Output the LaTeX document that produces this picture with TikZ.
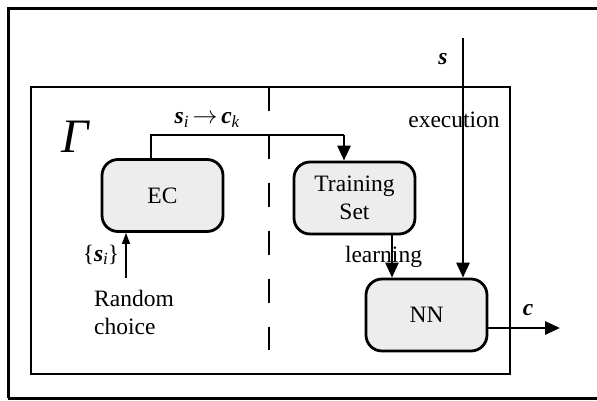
\documentclass[tikz,border=0pt]{standalone}
\usepackage{fontspec}
\setmainfont{Liberation Serif}
\usetikzlibrary{arrows.meta}
\newcommand{\bsym}[1]{{\bfseries\itshape #1}}
\newcommand{\lowsub}[1]{\raisebox{-0.3ex}{\fontsize{17}{17}\selectfont\itshape #1}}
\begin{document}
\begin{tikzpicture}[x=1pt,y=-1pt,
  box/.style={draw,line width=2.8pt,fill=black!7,rounded corners=16pt,minimum width=121pt,minimum height=72pt,inner sep=0pt,align=center},
  lbl/.style={inner sep=0pt,font=\fontsize{23.5}{28}\selectfont},
  thickarrow/.style={line width=2.8pt,-{Triangle[length=15pt,width=13pt]}},
  thinarrow/.style={line width=1.2pt,-{Triangle[length=11pt,width=8pt]}},
  frame/.style={line width=2.6pt}]
\useasboundingbox (0,0) rectangle (597,400);
\clip (0,0) rectangle (597,400);
% outer and inner frames
\draw[frame,line width=3pt] (8,398) -- (8,8) -- (620,8);
\draw[frame,line width=3pt] (8,398) -- (620,398);
\draw[frame] (31,87) rectangle (510,374);
% dashed separator
\draw[line width=2.6pt,dash pattern=on 24pt off 24pt] (269,87) -- (269,350);
% Gamma
\node[lbl,font=\fontsize{48}{48}\selectfont\itshape] (gamma) at (75,137) {Γ};
% boxes
\node[box,lbl] (ec) at (162.5,195.5) {EC};
\node[box,lbl] (ts) at (354.5,198) {Training\\Set};
\node[box,lbl] (nn) at (426.5,315) {NN};
% EC -> Training Set
\coordinate (c1) at (151,135);
\coordinate (c2) at (344,135);
\draw[line width=2.8pt] (ec.north -| c1) -- (c1) -- (c2);
\draw[thickarrow] (c2) -- (c2 |- ts.north);
\node[lbl] (map) at (207,120) {\bsym{s}\lowsub{i}\,$\rightarrow$\,\bsym{c}\lowsub{k}};
% random choice
\node[lbl,anchor=west,align=left] (rc) at (94,312) {Random\\choice};
\coordinate (rs) at (126,278);
\draw[thinarrow] (rs) -- (rs |- ec.south);
\node[lbl] (set) at (101,255) {\{\bsym{s}\lowsub{i}\}};
% input s
\coordinate (sin) at (463,38);
\node[lbl] (slab) at (443,59) {\bsym{s}};
\node[lbl] (exec) at (454,120) {execution};
\draw[thickarrow] (sin) -- (sin |- nn.north);
% learning
\node[lbl] (learn) at (383.5,257) {learning};
\coordinate (tl) at (392,234);
\draw[thickarrow] (tl |- ts.south) -- (tl |- nn.north);
% output c
\coordinate (cout) at (560,328);
\node[lbl] (clab) at (528,310) {\bsym{c}};
\draw[thickarrow] (nn.east |- cout) -- (cout);
\end{tikzpicture}
\end{document}
